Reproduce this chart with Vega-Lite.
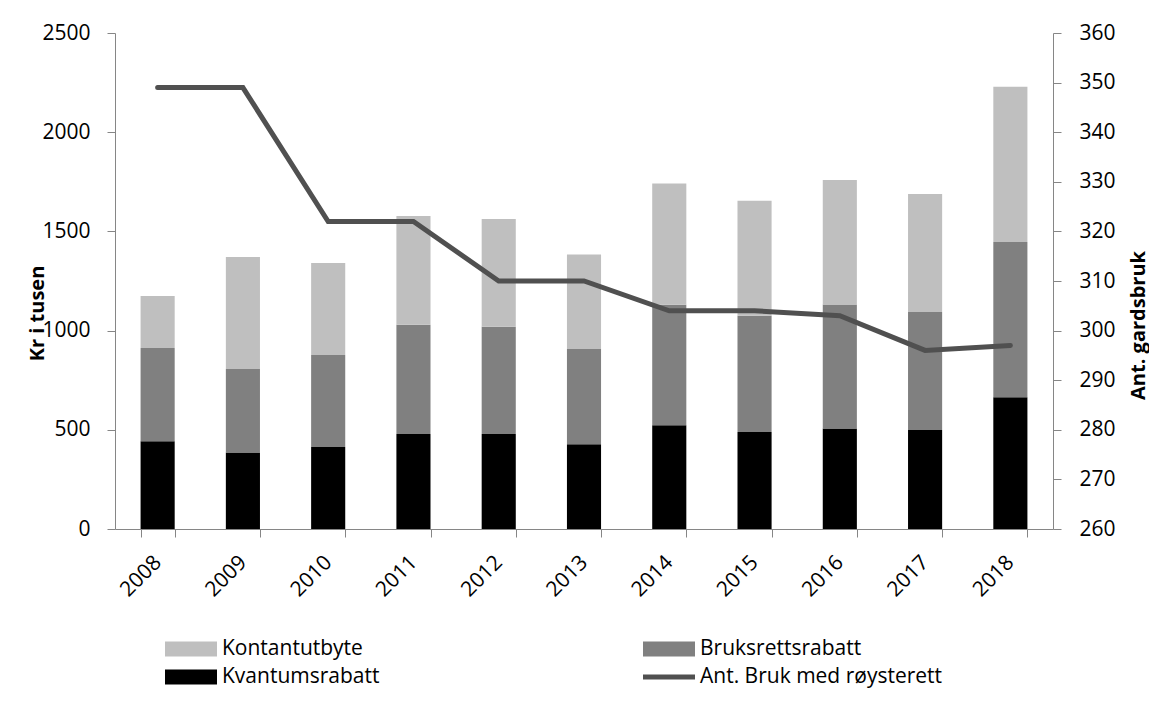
{
  "$schema": "https://vega.github.io/schema/vega-lite/v6.json",
  "width": 938,
  "height": 496,
  "autosize": {"type": "none"},
  "padding": {"left": 115, "top": 33, "right": 96, "bottom": 176},
  "background": "white",
  "config": {
    "view": {"stroke": null},
    "font": "Open Sans",
    "axis": {
      "domainColor": "#868686",
      "tickColor": "#868686",
      "grid": false,
      "labelFont": "Open Sans",
      "labelFontSize": 21,
      "labelColor": "#000000",
      "titleFont": "Open Sans",
      "titleFontSize": 20,
      "titleFontWeight": "bold",
      "titleColor": "#000000",
      "tickSize": 8
    }
  },
  "datasets": {
    "tal": [
      {"aar": "2008", "serie": "Kvantumsrabatt", "verdi": 442},
      {"aar": "2008", "serie": "Bruksrettsrabatt", "verdi": 470},
      {"aar": "2008", "serie": "Kontantutbyte", "verdi": 262},
      {"aar": "2009", "serie": "Kvantumsrabatt", "verdi": 386},
      {"aar": "2009", "serie": "Bruksrettsrabatt", "verdi": 420},
      {"aar": "2009", "serie": "Kontantutbyte", "verdi": 565},
      {"aar": "2010", "serie": "Kvantumsrabatt", "verdi": 413},
      {"aar": "2010", "serie": "Bruksrettsrabatt", "verdi": 464},
      {"aar": "2010", "serie": "Kontantutbyte", "verdi": 464},
      {"aar": "2011", "serie": "Kvantumsrabatt", "verdi": 479},
      {"aar": "2011", "serie": "Bruksrettsrabatt", "verdi": 551},
      {"aar": "2011", "serie": "Kontantutbyte", "verdi": 548},
      {"aar": "2012", "serie": "Kvantumsrabatt", "verdi": 479},
      {"aar": "2012", "serie": "Bruksrettsrabatt", "verdi": 541},
      {"aar": "2012", "serie": "Kontantutbyte", "verdi": 542},
      {"aar": "2013", "serie": "Kvantumsrabatt", "verdi": 427},
      {"aar": "2013", "serie": "Bruksrettsrabatt", "verdi": 480},
      {"aar": "2013", "serie": "Kontantutbyte", "verdi": 477},
      {"aar": "2014", "serie": "Kvantumsrabatt", "verdi": 523},
      {"aar": "2014", "serie": "Bruksrettsrabatt", "verdi": 607},
      {"aar": "2014", "serie": "Kontantutbyte", "verdi": 612},
      {"aar": "2015", "serie": "Kvantumsrabatt", "verdi": 489},
      {"aar": "2015", "serie": "Bruksrettsrabatt", "verdi": 586},
      {"aar": "2015", "serie": "Kontantutbyte", "verdi": 580},
      {"aar": "2016", "serie": "Kvantumsrabatt", "verdi": 506},
      {"aar": "2016", "serie": "Bruksrettsrabatt", "verdi": 625},
      {"aar": "2016", "serie": "Kontantutbyte", "verdi": 628},
      {"aar": "2017", "serie": "Kvantumsrabatt", "verdi": 499},
      {"aar": "2017", "serie": "Bruksrettsrabatt", "verdi": 595},
      {"aar": "2017", "serie": "Kontantutbyte", "verdi": 594},
      {"aar": "2018", "serie": "Kvantumsrabatt", "verdi": 664},
      {"aar": "2018", "serie": "Bruksrettsrabatt", "verdi": 782},
      {"aar": "2018", "serie": "Kontantutbyte", "verdi": 783}
    ],
    "serier": [
      {"serie": "Kvantumsrabatt", "nr": 1},
      {"serie": "Bruksrettsrabatt", "nr": 2},
      {"serie": "Kontantutbyte", "nr": 3}
    ],
    "bruk": [
      {"aar": "2008", "bruk": 349},
      {"aar": "2009", "bruk": 349},
      {"aar": "2010", "bruk": 322},
      {"aar": "2011", "bruk": 322},
      {"aar": "2012", "bruk": 310},
      {"aar": "2013", "bruk": 310},
      {"aar": "2014", "bruk": 304},
      {"aar": "2015", "bruk": 304},
      {"aar": "2016", "bruk": 303},
      {"aar": "2017", "bruk": 296},
      {"aar": "2018", "bruk": 297}
    ]
  },
  "layer": [
    {
      "data": {"name": "tal"},
      "transform": [
        {"lookup": "serie", "from": {"data": {"name": "serier"}, "key": "serie", "fields": ["nr"]}}
      ],
      "mark": {"type": "bar"},
      "encoding": {
        "x": {
          "field": "aar",
          "type": "ordinal",
          "scale": {"paddingInner": 0.6, "paddingOuter": 0.3},
          "axis": {
            "title": null,
            "labelAngle": -45,
            "labelAlign": "right",
            "labelBaseline": "middle",
            "labelPadding": 22,
            "tickBand": "extent"
          }
        },
        "y": {
          "field": "verdi",
          "type": "quantitative",
          "stack": "zero",
          "scale": {"domain": [0, 2500]},
          "axis": {
            "title": "Kr i tusen",
            "values": [0, 500, 1000, 1500, 2000, 2500],
            "format": "d",
            "labelPadding": 17,
            "titleX": -72,
            "titleY": 280,
            "titleAngle": -90,
            "titleBaseline": "alphabetic",
            "titleAlign": "center"
          }
        },
        "color": {
          "field": "serie",
          "type": "nominal",
          "scale": {
            "domain": ["Kontantutbyte", "Kvantumsrabatt", "Bruksrettsrabatt", "Ant. Bruk med røysterett"],
            "range": ["#BFBFBF", "#000000", "#808080", "#505050"]
          },
          "legend": {
            "orient": "none",
            "legendX": 50,
            "legendY": 602,
            "columns": 2,
            "title": null,
            "symbolSize": 2704,
            "symbolType": "M-1,-0.29H1V0.29H-1Z",
            "clipHeight": 28,
            "rowPadding": 0,
            "columnPadding": 263,
            "labelOffset": 5,
            "labelFont": "Open Sans",
            "labelFontSize": 21,
            "labelColor": "#000000",
            "labelLimit": 400,
            "padding": 0,
            "symbolStrokeWidth": 0,
            "symbolOpacity": 1,
            "encode": {
              "symbols": {
                "update": {
                  "shape": {"signal": "indexof(datum.value, 'Ant.') === 0 ? 'M-1,-0.1H1V0.1H-1Z' : 'M-1,-0.29H1V0.29H-1Z'"},
                  "fill": {"scale": "color", "field": "value"},
                  "strokeWidth": {"value": 0}
                }
              }
            }
          }
        },
        "order": {"field": "nr", "type": "quantitative", "sort": "ascending"}
      }
    },
    {
      "data": {"name": "bruk"},
      "mark": {"type": "line", "strokeWidth": 5, "strokeCap": "round", "strokeJoin": "miter"},
      "encoding": {
        "x": {"field": "aar", "type": "ordinal"},
        "y": {
          "field": "bruk",
          "type": "quantitative",
          "scale": {"domain": [260, 360]},
          "axis": {
            "orient": "right",
            "title": "Ant. gardsbruk",
            "values": [260, 270, 280, 290, 300, 310, 320, 330, 340, 350, 360],
            "labelPadding": 18,
            "titleX": 91,
            "titleY": 292,
            "titleAngle": -90,
            "titleBaseline": "alphabetic",
            "titleAlign": "center"
          }
        },
        "color": {"datum": "Ant. Bruk med røysterett"}
      }
    }
  ],
  "resolve": {"scale": {"y": "independent"}}
}
